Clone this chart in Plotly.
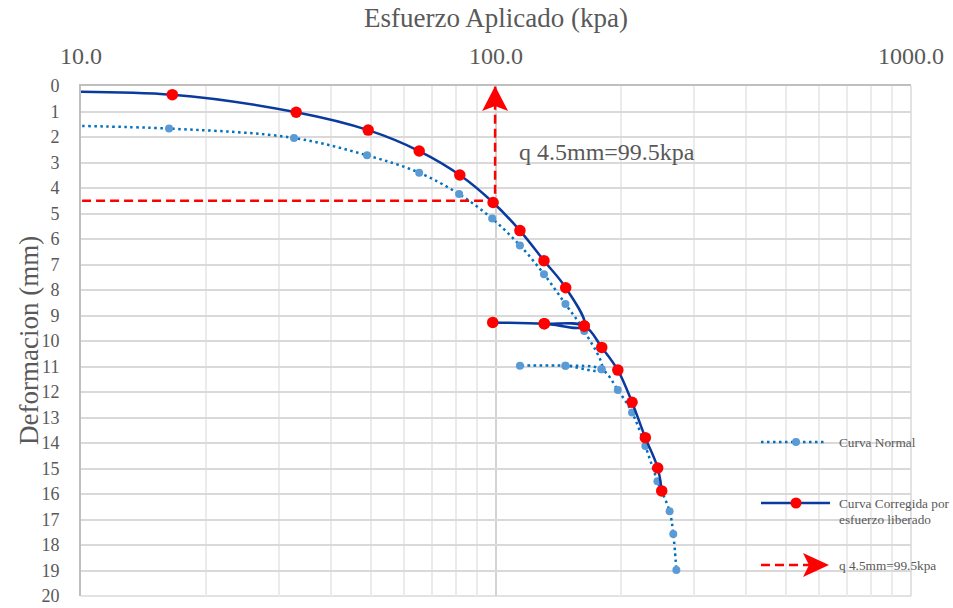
import plotly.graph_objects as go

# Curva Normal: esfuerzo aplicado (kPa) vs deformación (mm), incluye descarga/recarga
normal_esfuerzo = [5.0, 16.3, 32.6, 48.9, 65.3, 81.5, 97.9, 114.2, 130.5, 147.0, 163.2, 179.6,
                   147.0, 114.2, 147.0, 179.6, 196.6, 212.7, 229.0, 244.9, 262.0, 267.4, 272.0]
normal_deform = [1.50, 1.67, 2.04, 2.72, 3.40, 4.24, 5.20, 6.25, 7.38, 8.55, 9.61, 11.11,
                 10.97, 10.97, 10.97, 11.11, 11.92, 12.80, 14.12, 15.50, 16.68, 17.57, 18.98]

# Curva corregida por esfuerzo liberado
corr_esfuerzo = [5.0, 16.6, 33.0, 49.2, 65.3, 81.8, 98.4, 114.2, 130.5, 147.2, 163.2,
                 130.7, 98.2, 130.7, 163.2, 179.8, 196.6, 212.7, 229.0, 245.3, 250.8]
corr_deform = [0.25, 0.34, 1.03, 1.73, 2.55, 3.49, 4.57, 5.67, 6.85, 7.91, 9.41,
               9.32, 9.27, 9.32, 9.41, 10.25, 11.14, 12.40, 13.79, 14.98, 15.88]

# Lectura de q para 4.5 mm
q_esfuerzo = [5.0, 99.5, 99.5]
q_deform = [4.5, 4.5, 0.0]
q_label = "q 4.5mm=99.5kpa"

# Ejes
x_tickvals = [10, 100, 1000]
x_ticktext = ["10.0", "100.0", "1000.0"]
y_tickvals = list(range(0, 21))
x_minor = [k * 10 ** d for d in (1, 2) for k in range(2, 10)]

FONT = "Liberation Serif"
GRAY = "#595959"
NAVY = "#0B3A9E"
BLUE_DOT = "#0070C0"
BLUE_MK = "#5B9BD5"
RED = "#FF0000"
DOT = "2.5px,3.5px"
DASH = "9px,5px"

W, H = 953, 608
ML, MR, MT, MB = 81, 42, 86, 12
PW, PH = W - ML - MR, H - MT - MB


def px(x):
    return (x - ML) / PW


def py(y):
    return (H - MB - y) / PH


fig = go.Figure()

fig.add_trace(go.Scatter(
    x=normal_esfuerzo, y=normal_deform, mode="lines+markers", name="Curva Normal",
    line=dict(color=BLUE_DOT, width=2.5, dash=DOT, shape="spline", smoothing=1),
    marker=dict(color=BLUE_MK, size=8), showlegend=False))

fig.add_trace(go.Scatter(
    x=corr_esfuerzo, y=corr_deform, mode="lines+markers",
    name="Curva Corregida por esfuerzo liberado",
    line=dict(color=NAVY, width=2.5, shape="spline", smoothing=1),
    marker=dict(color=RED, size=11.5), showlegend=False))

fig.add_trace(go.Scatter(
    x=q_esfuerzo, y=q_deform, mode="lines", name=q_label,
    line=dict(color=RED, width=2.5, dash=DASH), showlegend=False))

shapes = []
# punta de flecha al final de la línea de q
shapes.append(dict(type="path", xref="x", yref="y", xsizemode="pixel", ysizemode="pixel",
                   xanchor=q_esfuerzo[-1], yanchor=q_deform[-1],
                   path="M0,0 L-13,-25 L0,-20 L13,-25 Z",
                   fillcolor=RED, line=dict(width=0), layer="above"))

# bordes derecho e inferior del área de trazado
shapes.append(dict(type="line", xref="paper", yref="paper", x0=1, x1=1, y0=0, y1=1,
                   line=dict(color="#D9D9D9", width=1.5), layer="below"))
shapes.append(dict(type="line", xref="paper", yref="paper", x0=0, x1=1, y0=0, y1=0,
                   line=dict(color="#D9D9D9", width=1.5), layer="below"))

# leyenda
shapes.append(dict(type="line", xref="paper", yref="paper", x0=px(761), x1=px(826),
                   y0=py(442), y1=py(442), line=dict(color=BLUE_DOT, width=2.5, dash=DOT)))
shapes.append(dict(type="circle", xref="paper", yref="paper", xsizemode="pixel", ysizemode="pixel",
                   xanchor=px(796), yanchor=py(442), x0=-4, x1=4, y0=-4, y1=4,
                   fillcolor=BLUE_MK, line=dict(width=0)))
shapes.append(dict(type="line", xref="paper", yref="paper", x0=px(761), x1=px(830),
                   y0=py(503), y1=py(503), line=dict(color=NAVY, width=2.5)))
shapes.append(dict(type="circle", xref="paper", yref="paper", xsizemode="pixel", ysizemode="pixel",
                   xanchor=px(796), yanchor=py(503), x0=-5.5, x1=5.5, y0=-5.5, y1=5.5,
                   fillcolor=RED, line=dict(width=0)))
shapes.append(dict(type="line", xref="paper", yref="paper", x0=px(761), x1=px(812),
                   y0=py(565), y1=py(565), line=dict(color=RED, width=2.5, dash=DASH)))
shapes.append(dict(type="path", xref="paper", yref="paper", xsizemode="pixel", ysizemode="pixel",
                   xanchor=px(829), yanchor=py(565),
                   path="M0,0 L-26,12 L-20,0 L-26,-12 Z",
                   fillcolor=RED, line=dict(width=0)))

leg_font = dict(family=FONT, size=13.3, color=GRAY)
annotations = [
    dict(text="Deformacion (mm)", x=px(29), y=0.5, xref="paper", yref="paper",
         xanchor="center", yanchor="middle", textangle=-90, showarrow=False,
         font=dict(family=FONT, size=27, color=GRAY)),
    dict(text=q_label, x=2.0506, y=2.6, xref="x", yref="y", xanchor="left", yanchor="middle",
         showarrow=False, font=dict(family=FONT, size=24, color=GRAY)),
    dict(text="Curva Normal", x=px(837), y=py(442), xref="paper", yref="paper",
         xanchor="left", yanchor="middle", showarrow=False, font=leg_font),
    dict(text="Curva Corregida por", x=px(837), y=py(503), xref="paper", yref="paper",
         xanchor="left", yanchor="middle", showarrow=False, font=leg_font),
    dict(text="esfuerzo liberado", x=px(837), y=py(519), xref="paper", yref="paper",
         xanchor="left", yanchor="middle", showarrow=False, font=leg_font),
    dict(text=q_label, x=px(837), y=py(565), xref="paper", yref="paper",
         xanchor="left", yanchor="middle", showarrow=False, font=leg_font),
]

fig.update_xaxes(
    type="log", range=[1, 3], side="top",
    tickvals=x_tickvals, ticktext=x_ticktext, ticks="", ticklabelstandoff=10,
    tickfont=dict(family=FONT, size=24, color=GRAY),
    showgrid=True, gridcolor="#D3D3D3", gridwidth=1.5,
    minor=dict(tickvals=x_minor, showgrid=True, gridcolor="#EBEBEB", gridwidth=2, ticks=""),
    showline=True, linecolor="#BFBFBF", linewidth=2, zeroline=False,
    title=dict(text="Esfuerzo Aplicado (kpa)", standoff=8,
               font=dict(family=FONT, size=27, color=GRAY)),
)
fig.update_yaxes(
    range=[20, 0], tickvals=y_tickvals, ticks="", ticklabelstandoff=16,
    tickfont=dict(family=FONT, size=18, color=GRAY),
    showgrid=True, gridcolor="#D9D9D9", gridwidth=1.5,
    showline=True, linecolor="#BFBFBF", linewidth=2, zeroline=False,
)

fig.update_layout(
    width=W, height=H, margin=dict(l=ML, r=MR, t=MT, b=MB, autoexpand=False),
    paper_bgcolor="white", plot_bgcolor="white",
    shapes=shapes, annotations=annotations, showlegend=False,
    font=dict(family=FONT, color=GRAY),
)

fig.write_html("out.html")
